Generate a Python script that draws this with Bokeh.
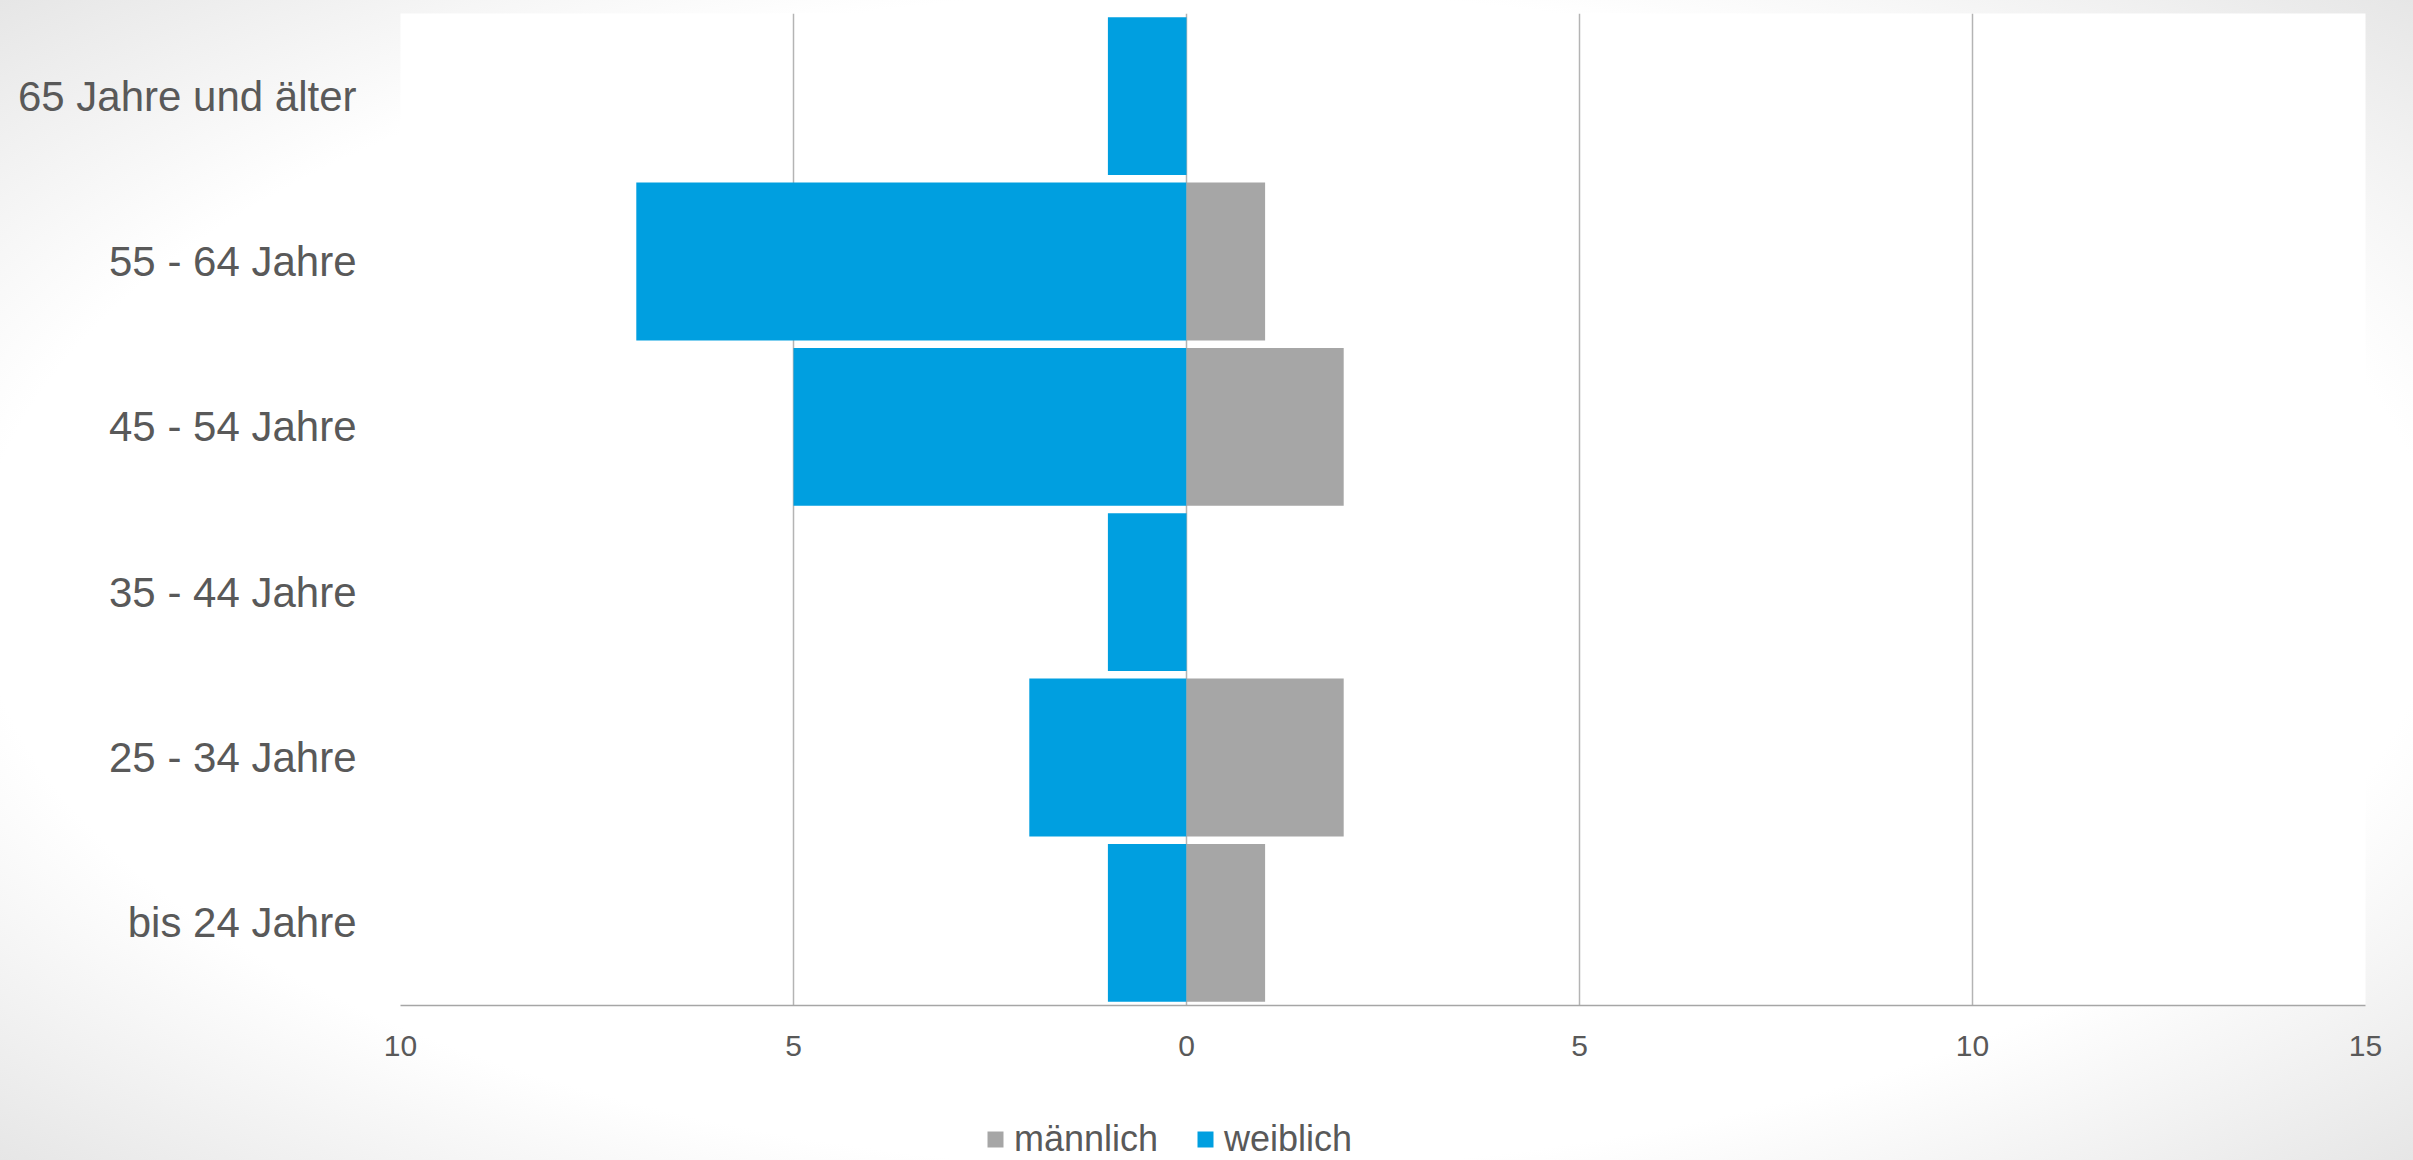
from bokeh.plotting import figure
from bokeh.layouts import column
from bokeh.models import ColumnDataSource, FactorRange, FixedTicker, Legend, LegendItem, Range1d
from bokeh.embed import file_html
from bokeh.resources import INLINE

categories = ["bis 24 Jahre", "25 - 34 Jahre", "35 - 44 Jahre", "45 - 54 Jahre", "55 - 64 Jahre", "65 Jahre und älter"]
maennlich = [1, 2, 0, 2, 1, 0]
weiblich = [1, 2, 1, 5, 7, 1]
tick_values = [-10, -5, 0, 5, 10, 15]
tick_labels = ["10", "5", "0", "5", "10", "15"]
series_names = ["männlich", "weiblich"]
series_colors = ["#A6A6A6", "#009FE0"]

TEXT = "#595959"
FONT = "Liberation Sans"

src = ColumnDataSource(dict(
    cat=categories,
    m=maennlich,
    w_left=[-v for v in weiblich],
    zero=[0] * len(categories),
))

# ---- main chart ----
p = figure(width=2413, height=1100, output_backend="svg", toolbar_location=None,
           y_range=FactorRange(*categories, range_padding=0), x_range=(-10, 15),
           min_border_left=400, min_border_right=48, min_border_top=13, min_border_bottom=95)
p.background_fill_color = "white"
p.border_fill_alpha = 0
p.outline_line_color = None

p.hbar(y="cat", left="w_left", right="zero", height=0.955, source=src,
       fill_color=series_colors[1], line_color=None)
p.hbar(y="cat", left="zero", right="m", height=0.955, source=src,
       fill_color=series_colors[0], line_color=None)

p.xaxis.ticker = FixedTicker(ticks=tick_values)
p.xaxis.major_label_overrides = {v: l for v, l in zip(tick_values, tick_labels)}
p.xaxis.major_tick_line_color = None
p.xaxis.minor_tick_line_color = None
p.xaxis.axis_line_color = "#A6A6A6"
p.xaxis.axis_line_width = 1.5
p.xaxis.major_label_text_font = FONT
p.xaxis.major_label_text_font_size = "30px"
p.xaxis.major_label_text_color = TEXT
p.xaxis.major_label_standoff = 24

p.yaxis.axis_line_color = None
p.yaxis.major_tick_line_color = None
p.yaxis.minor_tick_line_color = None
p.yaxis.major_label_text_font = FONT
p.yaxis.major_label_text_font_size = "42px"
p.yaxis.major_label_text_color = TEXT
p.yaxis.major_label_standoff = 38

p.xgrid.ticker = FixedTicker(ticks=tick_values)
p.xgrid.grid_line_color = "#B4B4B4"
p.xgrid.grid_line_width = 1.5
p.ygrid.grid_line_color = None

# ---- legend strip: proxies use the real data; the strip's y range holds only the
# series names, so the age-group bars are not drawn here ----
pl = figure(width=2413, height=60, output_backend="svg", toolbar_location=None,
            x_axis_type=None, y_axis_type=None, x_range=Range1d(-10, 15),
            y_range=FactorRange(*series_names),
            min_border_left=400, min_border_right=48, min_border_top=0, min_border_bottom=0)
pl.background_fill_alpha = 0
pl.border_fill_alpha = 0
pl.outline_line_color = None
proxy_m = pl.hbar(y="cat", left="zero", right="m", height=0.955, source=src,
                  fill_color=series_colors[0], line_color=None)
proxy_w = pl.hbar(y="cat", left="w_left", right="zero", height=0.955, source=src,
                  fill_color=series_colors[1], line_color=None)

legend = Legend(items=[LegendItem(label=series_names[0], renderers=[proxy_m]),
                       LegendItem(label=series_names[1], renderers=[proxy_w])],
                orientation="horizontal", location=(585, 0))
legend.label_text_font = FONT
legend.label_text_font_size = "36px"
legend.label_text_color = TEXT
legend.glyph_width = 20
legend.glyph_height = 20
legend.label_standoff = 9
legend.spacing = 37
legend.padding = 0
legend.margin = 0
legend.border_line_color = None
legend.background_fill_alpha = 0
pl.add_layout(legend, "center")

layout = column(p, pl, spacing=0)
layout.styles = {"background-image": "radial-gradient(ellipse farthest-corner at 50% 50%, #ffffff 72%, #e6e6e6 100%)"}

open("out.html", "w").write(file_html(layout, INLINE))
